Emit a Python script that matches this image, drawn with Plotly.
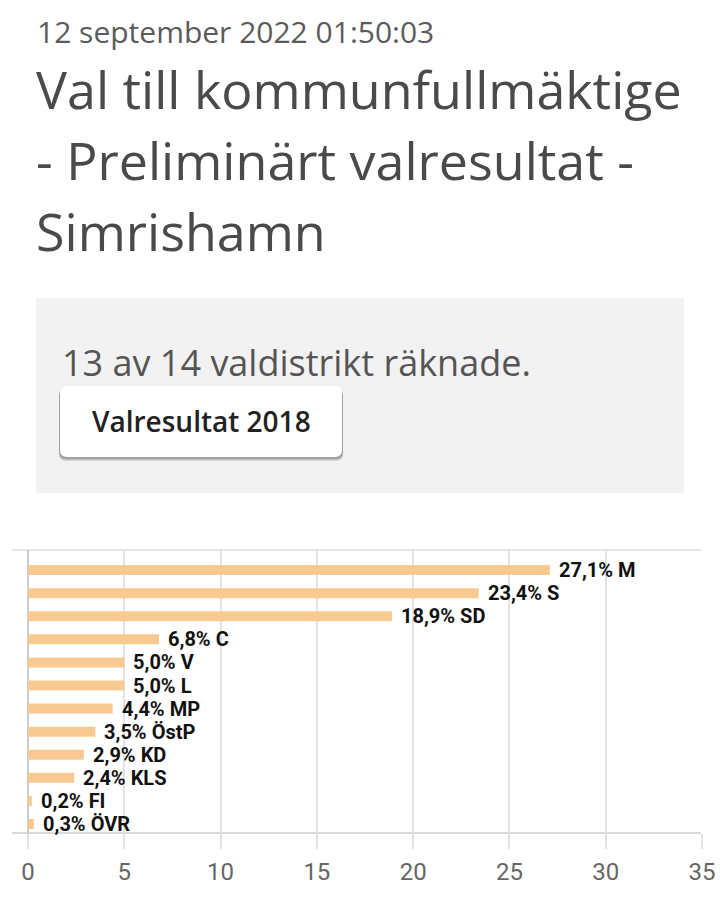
import plotly.graph_objects as go

# ---- data ----
parties = ["M", "S", "SD", "C", "V", "L", "MP", "ÖstP", "KD", "KLS", "FI", "ÖVR"]
shares = [27.1, 23.4, 18.9, 6.8, 5.0, 5.0, 4.4, 3.5, 2.9, 2.4, 0.2, 0.3]
x_ticks = [0, 5, 10, 15, 20, 25, 30, 35]

timestamp = "12 september 2022 01:50:03"
title_lines = ["Val till kommunfullmäktige", "- Preliminärt valresultat -", "Simrishamn"]
status_text = "13 av 14 valdistrikt räknade."
button_text = "Valresultat 2018"

# ---- layout geometry (pixels) ----
W, H = 720, 916
L, R, T, B = 28, 18, 550, 83
PW, PH = W - L - R, H - T - B


def px(x):
    return (x - L) / PW


def py(y):
    return (H - B - y) / PH


def rounded_rect(x0, y0, x1, y1, r):
    pts = [
        ("M", x0 + r, y0), ("L", x1 - r, y0), ("Q", x1, y0, x1, y0 + r),
        ("L", x1, y1 - r), ("Q", x1, y1, x1 - r, y1), ("L", x0 + r, y1),
        ("Q", x0, y1, x0, y1 - r), ("L", x0, y0 + r), ("Q", x0, y0, x0 + r, y0),
    ]
    parts = []
    for p in pts:
        s = p[0]
        coords = p[1:]
        for i in range(0, len(coords), 2):
            s += f" {px(coords[i]):.5f},{py(coords[i+1]):.5f}"
        parts.append(s)
    return " ".join(parts) + " Z"


bar_color = "#f8ca92"

fig = go.Figure()
fig.add_trace(go.Bar(
    x=shares, y=parties, orientation="h",
    marker=dict(color=bar_color, line=dict(width=0)),
    width=0.43,
    hoverinfo="skip",
))

annotations = []
for p, v in zip(parties, shares):
    label = f"{v:.1f}".replace(".", ",") + f"% {p}"
    annotations.append(dict(
        x=v, y=p, xref="x", yref="y", text=label, showarrow=False,
        xanchor="left", yanchor="middle", xshift=7,
        font=dict(family="Roboto", size=20, color="#111111", weight="bold"),
    ))

annotations.append(dict(
    x=px(35), y=py(31), xref="paper", yref="paper", text=timestamp, showarrow=False,
    xanchor="left", yanchor="middle",
    font=dict(family="Open Sans", size=30, color="#5b5b5b"),
))
for line, yc in zip(title_lines, [88, 159, 230]):
    annotations.append(dict(
        x=px(34), y=py(yc), xref="paper", yref="paper", text=line, showarrow=False,
        xanchor="left", yanchor="middle",
        font=dict(family="Open Sans", size=52, color="#4a4a4a"),
    ))
annotations.append(dict(
    x=px(60), y=py(362), xref="paper", yref="paper", text=status_text, showarrow=False,
    xanchor="left", yanchor="middle",
    font=dict(family="Open Sans", size=36, color="#555555"),
))
annotations.append(dict(
    x=px(201), y=py(421), xref="paper", yref="paper", text=button_text, showarrow=False,
    xanchor="center", yanchor="middle",
    font=dict(family="Open Sans", size=28, color="#222222", weight=600),
))

shapes = []
shapes.append(dict(type="rect", xref="paper", yref="paper",
                   x0=px(36), x1=px(684), y0=py(298), y1=py(493),
                   fillcolor="#f2f2f2", line=dict(width=0), layer="below"))
for off, op in [(4, 0.10), (3, 0.12), (2, 0.15)]:
    shapes.append(dict(type="path", xref="paper", yref="paper",
                       path=rounded_rect(60 - 1, 386 + off, 342 + 1, 457 + off, 7),
                       fillcolor=f"rgba(0,0,0,{op})", line=dict(width=0), layer="below"))
shapes.append(dict(type="path", xref="paper", yref="paper",
                   path=rounded_rect(60, 386, 342, 457, 7),
                   fillcolor="#ffffff", line=dict(width=0), layer="below"))
shapes.append(dict(type="line", xref="paper", yref="paper",
                   x0=px(12), x1=px(701), y0=py(550), y1=py(550),
                   line=dict(color="#e6e6e6", width=2), layer="below"))
shapes.append(dict(type="line", xref="paper", yref="paper",
                   x0=px(12), x1=px(701), y0=py(833), y1=py(833),
                   line=dict(color="#d9d9d9", width=2), layer="below"))
shapes.append(dict(type="line", xref="paper", yref="paper",
                   x0=px(28), x1=px(28), y0=py(550), y1=py(848),
                   line=dict(color="#cccccc", width=2), layer="below"))

fig.update_layout(
    width=W, height=H, autosize=False,
    margin=dict(l=L, r=R, t=T, b=B, pad=0, autoexpand=False),
    paper_bgcolor="#ffffff", plot_bgcolor="#ffffff",
    showlegend=False,
    xaxis=dict(
        range=[0, 35], tickvals=x_ticks, ticktext=[str(t) for t in x_ticks],
        automargin=False, ticklabeloverflow="allow",
        showgrid=True, gridcolor="#e3e3e3", gridwidth=2,
        zeroline=False, showline=False,
        ticks="outside", ticklen=15, tickwidth=2, tickcolor="#e3e3e3",
        ticklabelstandoff=2,
        tickfont=dict(family="Roboto", size=24, color="#666666"),
        fixedrange=True,
    ),
    yaxis=dict(
        categoryorder="array", categoryarray=parties,
        range=[11.39, -0.87], automargin=False,
        showticklabels=False, showgrid=False, zeroline=False, showline=False,
        ticks="", fixedrange=True,
    ),
    annotations=annotations,
    shapes=shapes,
)

fig.write_html("out.html", config={"responsive": False, "displayModeBar": False})
